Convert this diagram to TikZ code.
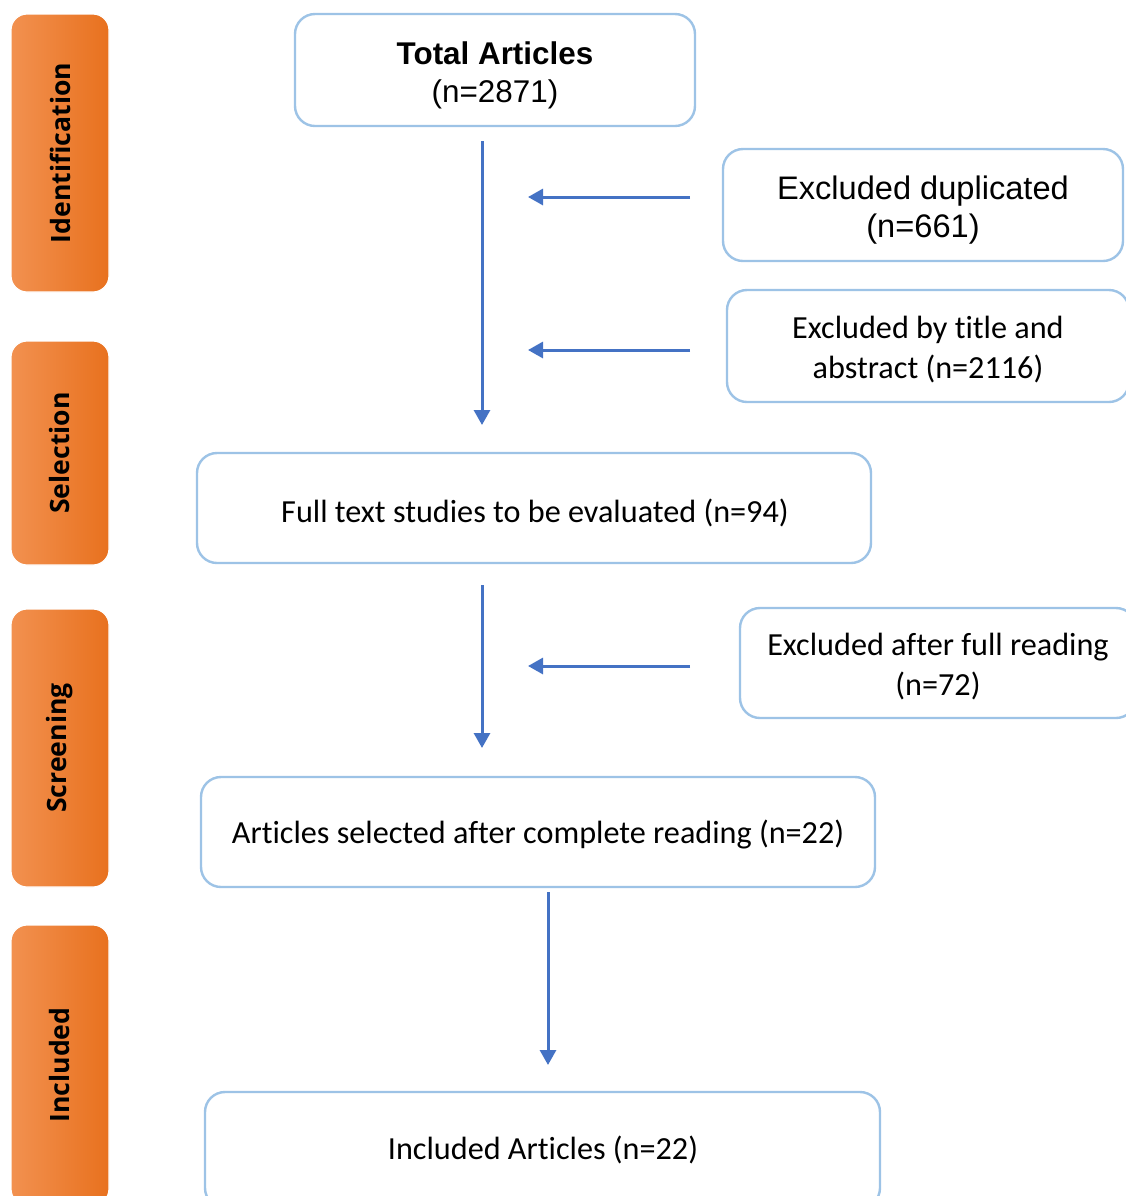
\documentclass[tikz,border=0pt]{standalone}
\usepackage{fontspec}
\setmainfont[Ligatures=NoCommon]{Carlito}
\newfontfamily\arialfont{Liberation Sans}
\newfontfamily\sidefont{Open Sans}
\usetikzlibrary{arrows.meta}
\definecolor{boxblue}{HTML}{9DC3E6}
\definecolor{arrblue}{HTML}{4472C4}
\definecolor{orangeL}{HTML}{F29150}
\definecolor{orangeR}{HTML}{E8711E}
\tikzset{
  flowbox/.style={draw=boxblue, line width=1.2pt, rounded corners=10pt, fill=white, inner sep=0pt},
  flowtext/.style={align=center, inner sep=0pt, font=\fontsize{16.1}{20}\selectfont},
  arialtext/.style={align=center, inner sep=0pt, font=\arialfont\fontsize{15.7}{19}\selectfont},
  sidebar/.style={rounded corners=8pt, left color=orangeL, right color=orangeR, draw=white, line width=0.6pt, minimum width=49pt, inner sep=0pt},
  sidelabel/.style={rotate=90, font=\sidefont\bfseries\fontsize{13.3}{15}\selectfont},
  flowarrow/.style={draw=arrblue, line width=1.5pt, -{Triangle[length=7.5pt,width=8pt]}},
}
\begin{document}
\begin{tikzpicture}[x=0.5pt,y=-0.5pt]
\useasboundingbox (0,0) rectangle (1126,1196);
\clip (0,0) rectangle (1126,1196);
% side bars
\node[sidebar, minimum height=139pt] (sb1) at (60,153) {};
\node[sidelabel] (sl1) at (60,153) {Identification};
\node[sidebar, minimum height=112pt] (sb2) at (60,453) {};
\node[sidelabel] (sl2) at (60,453) {Selection};
\node[sidebar, minimum height=139pt] (sb3) at (60,748) {};
\node[sidelabel] (sl3) at (60,748) {Screening};
\node[sidebar, minimum height=140pt] (sb4) at (60,1065) {};
\node[sidelabel] (sl4) at (60,1065) {Included};
% boxes
\node[flowbox, minimum width=200pt, minimum height=56pt] (total) at (495,70) {};
\node[arialtext] (totalt) at (495,75) {{\bfseries Total Articles}\\(n=2871)};
\node[flowbox, minimum width=200pt, minimum height=56pt] (dup) at (923,205) {};
\node[arialtext, font=\arialfont\fontsize{16.3}{19}\selectfont] (dupt) at (923,210) {Excluded duplicated\\(n=661)};
\node[flowbox, minimum width=201pt, minimum height=56pt] (title) at (928,346) {};
\node[flowtext] (titlet) at (928,350) {Excluded by title and\\abstract (n=2116)};
\node[flowbox, minimum width=337pt, minimum height=55pt] (full) at (534,508) {};
\node[flowtext] (fullt) at (535,513) {Full text studies to be evaluated (n=94)};
\node[flowbox, minimum width=198pt, minimum height=55pt] (read) at (938,663) {};
\node[flowtext] (readt) at (938,667) {Excluded after full reading\\(n=72)};
\node[flowbox, minimum width=337pt, minimum height=55pt] (sel) at (538,832) {};
\node[flowtext] (selt) at (538,834) {Articles selected after complete reading (n=22)};
\node[flowbox, minimum width=337.5pt, minimum height=58pt] (inc) at (542.5,1150) {};
\node[flowtext] (inct) at (543,1150) {Included Articles (n=22)};
% connector end points
\coordinate (a1s) at (482,141);
\coordinate (a1e) at (482,425);
\coordinate (h1s) at (690,197);
\coordinate (h1e) at (528,197);
\coordinate (h2s) at (690,350);
\coordinate (h2e) at (528,350);
\coordinate (a2s) at (482,585);
\coordinate (a2e) at (482,748);
\coordinate (h3s) at (690,666);
\coordinate (h3e) at (528,666);
\coordinate (a3s) at (548,892);
\coordinate (a3e) at (548,1065);
\draw[flowarrow] (a1s) -- (a1e);
\draw[flowarrow] (h1s) -- (h1e);
\draw[flowarrow] (h2s) -- (h2e);
\draw[flowarrow] (a2s) -- (a2e);
\draw[flowarrow] (h3s) -- (h3e);
\draw[flowarrow] (a3s) -- (a3e);
\end{tikzpicture}
\end{document}
